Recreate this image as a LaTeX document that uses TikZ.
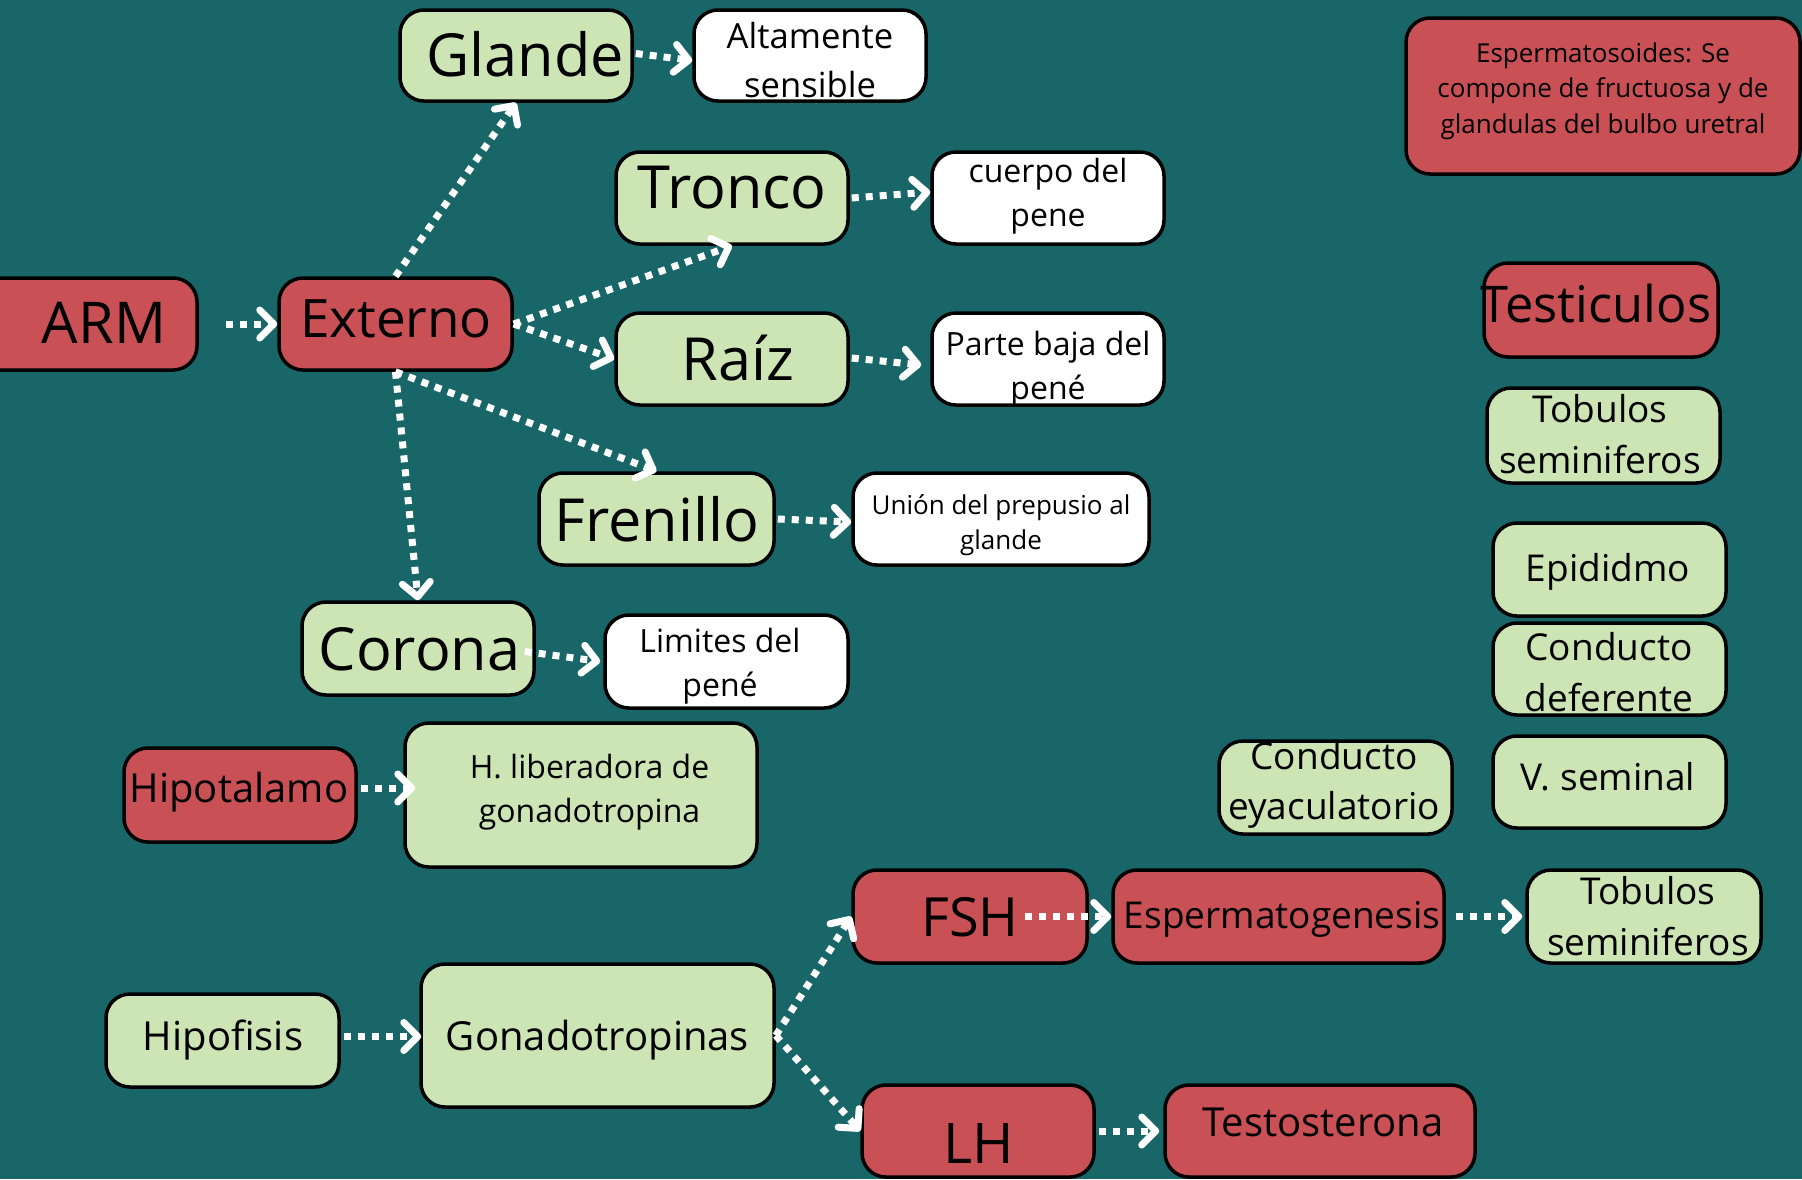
\documentclass[tikz,border=0pt]{standalone}
\usepackage{fontspec}
\setmainfont{Open Sans}
\usetikzlibrary{arrows.meta,calc}
\definecolor{bg}{RGB}{25,102,105}
\definecolor{rd}{RGB}{201,80,85}
\definecolor{gr}{RGB}{205,228,180}
\tikzset{
  bx/.style={draw=black, line width=1.75pt, rounded corners=12pt, inner sep=0pt},
  redbox/.style={bx, fill=rd},
  greenbox/.style={bx, fill=gr},
  whitebox/.style={bx, fill=white},
  txt/.style={inner sep=0pt, align=center, text=black},
  fbig/.style={font=\fontsize{29.7}{40}\selectfont},
  fmed/.style={font=\fontsize{20}{27.4}\selectfont},
  fsm/.style={font=\fontsize{18.5}{25.3}\selectfont},
  fxs/.style={font=\fontsize{16}{21.9}\selectfont},
  ftiny/.style={font=\fontsize{13}{17.8}\selectfont},
  arr/.style={draw=white, line width=3.5pt, dash pattern=on 3.5pt off 3.5pt,
    -{Straight Barb[length=7pt,width=14pt,round]}}
}
\begin{document}
\begin{tikzpicture}[x=0.5pt,y=-0.5pt]
\useasboundingbox (0,0) rectangle (1802,1179);
\clip (0,0) rectangle (1802,1179);
\fill[bg] (0,0) rectangle (1802,1179);

% boxes
\node[redbox, minimum width=117pt, minimum height=46pt] (arm) at (80,324) {};
\node[redbox, minimum width=116.5pt, minimum height=46pt] (externo) at (395.5,324) {};
\node[greenbox, minimum width=116pt, minimum height=45.5pt] (glande) at (516,55.5) {};
\node[whitebox, minimum width=116pt, minimum height=45.5pt] (alt) at (810,55.5) {};
\node[greenbox, minimum width=116pt, minimum height=46pt] (tronco) at (732,198) {};
\node[whitebox, minimum width=116pt, minimum height=46pt] (cuerpo) at (1048,198) {};
\node[greenbox, minimum width=116pt, minimum height=46pt] (raiz) at (732,359) {};
\node[whitebox, minimum width=116pt, minimum height=46pt] (parte) at (1048,359) {};
\node[greenbox, minimum width=117.5pt, minimum height=46pt] (frenillo) at (656.5,519) {};
\node[whitebox, minimum width=148pt, minimum height=46pt] (union) at (1001,519) {};
\node[greenbox, minimum width=116pt, minimum height=46.5pt] (corona) at (418,648.5) {};
\node[whitebox, minimum width=121.5pt, minimum height=46.5pt] (limites) at (726.5,661.5) {};
\node[redbox, minimum width=116pt, minimum height=47pt] (hipot) at (240,795) {};
\node[greenbox, minimum width=176pt, minimum height=72pt] (hlib) at (581,795) {};
\node[greenbox, minimum width=116.5pt, minimum height=46.5pt] (hipof) at (222.5,1040.5) {};
\node[greenbox, minimum width=176.5pt, minimum height=71.5pt] (gonad) at (597.5,1035.5) {};
\node[redbox, minimum width=117pt, minimum height=46.5pt] (fsh) at (970,916.5) {};
\node[redbox, minimum width=165.5pt, minimum height=46.5pt] (espg) at (1278.5,916.5) {};
\node[greenbox, minimum width=117pt, minimum height=46.5pt] (tobb) at (1644,916.5) {};
\node[redbox, minimum width=116pt, minimum height=46pt] (lh) at (978,1131) {};
\node[redbox, minimum width=155pt, minimum height=46pt] (testo) at (1320,1131) {};
\node[redbox, minimum width=197pt, minimum height=78pt] (espz) at (1603,96) {};
\node[redbox, minimum width=117pt, minimum height=47pt] (testic) at (1601,310) {};
\node[greenbox, minimum width=116.5pt, minimum height=47.5pt] (tobt) at (1603.5,435.5) {};
\node[greenbox, minimum width=116.5pt, minimum height=46.5pt] (epid) at (1609.5,569.5) {};
\node[greenbox, minimum width=116.5pt, minimum height=46pt] (cdef) at (1609.5,669) {};
\node[greenbox, minimum width=116.5pt, minimum height=46pt] (vsem) at (1609.5,782) {};
\node[greenbox, minimum width=116.5pt, minimum height=46.5pt] (ceya) at (1335.5,787.5) {};

% texts
\node[txt, font=\fontsize{28.8}{38}\selectfont] (tarm) at (104,323) {ARM};
\node[txt, font=\fontsize{26.5}{36}\selectfont] (texterno) at (396,319) {Externo};
\node[txt, fbig] (tglande) at (525,54) {Glande};
\node[txt, font=\fontsize{17.3}{24.2}\selectfont] (talt) at (810,60) {Altamente\\sensible};
\node[txt, fbig] (ttronco) at (732,188) {Tronco};
\node[txt, fxs] (tcuerpo) at (1048,196) {cuerpo del\\pene};
\node[txt, fbig] (traiz) at (738,358) {Raíz};
\node[txt, fxs] (tparte) at (1048,369) {Parte baja del\\pené};
\node[txt, fbig] (tfrenillo) at (657,519) {Frenillo};
\node[txt, ftiny] (tunion) at (1001,525) {Unión del prepusio al\\glande};
\node[txt, fbig] (tcorona) at (419.5,649) {Corona};
\node[txt, fxs] (tlimites) at (720,666) {Limites del\\pené};
\node[txt, fmed] (thipot) at (239,792) {Hipotalamo};
\node[txt, fxs] (thlib) at (589.5,792) {H. liberadora de\\gonadotropina};
\node[txt, fmed] (thipof) at (223,1040) {Hipofisis};
\node[txt, fmed] (tgonad) at (597.5,1040) {Gonadotropinas};
\node[txt, font=\fontsize{27}{36}\selectfont] (tfsh) at (970,917) {FSH};
\node[txt, fsm] (tespg) at (1282,919) {Espermatogenesis};
\node[txt, fsm] (ttobb) at (1648,916) {Tobulos\\seminiferos};
\node[txt, font=\fontsize{28}{38}\selectfont] (tlh) at (978.5,1143) {LH};
\node[txt, fmed] (ttesto) at (1323,1122) {Testosterona};
\node[txt, ftiny] (tespz) at (1603,91) {Espermatosoides: Se\\compone de fructuosa y de\\glandulas del bulbo uretral};
\node[txt, font=\fontsize{25.3}{34}\selectfont] (ttestic) at (1596,304) {Testiculos};
\node[txt, fsm] (ttobt) at (1600,434) {Tobulos\\seminiferos};
\node[txt, fsm] (tepid) at (1608,572) {Epididmo};
\node[txt, fsm] (tcdef) at (1609,672) {Conducto\\deferente};
\node[txt, fsm] (tvsem) at (1608,777) {V. seminal};
\node[txt, fsm] (tceya) at (1334,785) {Conducto\\eyaculatorio};

% connectors
\draw[arr, shorten <=13.5pt] (arm.east) -- (externo.west);
\draw[arr] (externo.north) -- (glande.south);
\draw[arr] (externo.east) -- (tronco.south);
\draw[arr] (externo.east) -- (raiz.west);
\draw[arr] (externo.south) -- (frenillo.north);
\draw[arr] (externo.south) -- (corona.north);
\draw[arr] ($(glande.east)+(2,-2)$) -- ($(alt.west)+(0,5)$);
\draw[arr] ($(tronco.east)+(2,0)$) -- ($(cuerpo.west)+(0,-6)$);
\draw[arr] ($(raiz.east)+(2,-1)$) -- ($(parte.west)+(-9,6)$);
\draw[arr] ($(frenillo.east)+(2,0)$) -- ($(union.west)+(0,3)$);
\draw[arr] ($(corona.east)+(-11,3)$) -- ($(limites.west)+(-3,0)$);
\draw[arr] ($(hipot.east)+(3,-7)$) -- ($(hlib.west)+(12,-7)$);
\draw[arr] ($(hipof.east)+(3,-4)$) -- ($(gonad.west)+(2,1)$);
\draw[arr] (gonad.east) -- (fsh.west);
\draw[arr] (gonad.east) -- (lh.west);
\draw[arr, shorten <=-32pt] (fsh.east) -- (espg.west);
\draw[arr, shorten <=5pt] (espg.east) -- ($(tobb.west)+(-3,0)$);
\draw[arr, shorten <=1.5pt] (lh.east) -- ($(testo.west)+(-4,0)$);
\end{tikzpicture}
\end{document}
